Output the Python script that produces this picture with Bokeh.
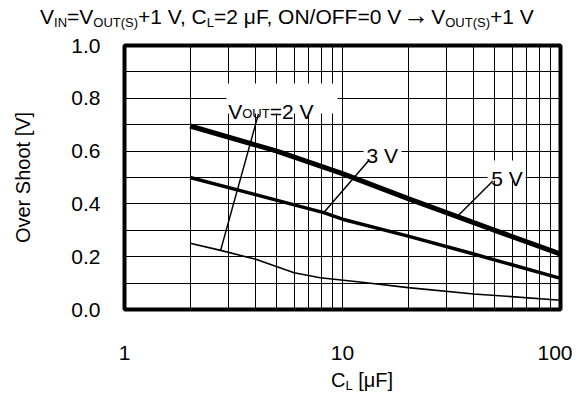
from bokeh.plotting import figure
from bokeh.layouts import column
from bokeh.models import (Range1d, FixedTicker, Label, BoxAnnotation, Div,
                          BasicTickFormatter, PrintfTickFormatter)
from bokeh.embed import file_html
from bokeh.resources import INLINE

# ---------------- data ----------------
cl_2v = [2, 2.76, 4, 6, 7.9, 12, 20, 40, 100]
os_2v = [0.251, 0.224, 0.19, 0.139, 0.12, 0.104, 0.083, 0.059, 0.035]
cl_3v = [2, 8.2, 10, 20, 40, 100]
os_3v = [0.50, 0.367, 0.342, 0.278, 0.21, 0.118]
cl_5v = [2, 5, 10, 20, 50, 100]
os_5v = [0.695, 0.60, 0.515, 0.42, 0.30, 0.21]

x_ticks = [1, 10, 100]
x_grid = [1, 2, 3, 4, 5, 6, 7, 8, 9, 10, 20, 30, 40, 50, 60, 70, 80, 90, 100]
y_ticks = [0.0, 0.2, 0.4, 0.6, 0.8, 1.0]
y_grid = [0.0, 0.1, 0.2, 0.3, 0.4, 0.5, 0.6, 0.7, 0.8, 0.9, 1.0]

# leader lines from labels to curves (C_L, over shoot)
lead_2v_c = [4.12, 2.76]
lead_2v_v = [0.742, 0.224]
lead_3v_c = [13.2, 8.21]
lead_3v_v = [0.564, 0.367]
lead_5v_c = [49.1, 33.6]
lead_5v_v = [0.488, 0.352]

# ---------------- layout ----------------
TITLE_H = 30
FL, FT, FR, FB = 124, 45, 560, 309   # frame in page pixels
FIG_BOTTOM = 365
FONT = "Liberation Sans"
WID = {'V': 667, 'O': 778, 'U': 722, 'T': 611, '=': 584, ' ': 278, '2': 556,
       '3': 556, '5': 556}


def tw(s, size):
    return sum(WID.get(c, 556) for c in s) * size / 1000.0


p = figure(x_axis_type="log", x_range=Range1d(1, 100), y_range=Range1d(0, 1),
           frame_width=FR - FL, frame_height=FB - FT,
           min_border_left=FL, min_border_top=FT - TITLE_H,
           min_border_right=12, min_border_bottom=FIG_BOTTOM - FB,
           output_backend="svg", toolbar_location=None, margin=(0, 0, 0, 0))
p.background_fill_color = "white"
p.border_fill_color = "white"
p.outline_line_color = "black"
p.outline_line_width = 4

for ax in (p.xaxis[0], p.yaxis[0]):
    ax.axis_line_color = None
    ax.major_tick_line_color = None
    ax.minor_tick_line_color = None
    ax.major_label_text_font = FONT
    ax.major_label_text_font_size = "21px"
    ax.major_label_text_color = "black"

p.xaxis.ticker = FixedTicker(ticks=x_ticks)
p.xaxis.formatter = BasicTickFormatter()
p.xaxis.major_label_standoff = 30
p.yaxis.ticker = FixedTicker(ticks=y_ticks)
p.yaxis.formatter = PrintfTickFormatter(format="%.1f")
p.yaxis.major_label_standoff = 18
p.yaxis.axis_label = "Over Shoot [V]"
p.yaxis.axis_label_text_font = FONT
p.yaxis.axis_label_text_font_size = "20px"
p.yaxis.axis_label_text_font_style = "normal"
p.yaxis.axis_label_text_color = "black"
p.yaxis.axis_label_standoff = 34

p.xgrid.ticker = FixedTicker(ticks=x_grid)
p.ygrid.ticker = FixedTicker(ticks=y_grid)
for g in (p.xgrid[0], p.ygrid[0]):
    g.grid_line_color = "black"
    g.grid_line_alpha = 1.0
    g.grid_line_width = 1

# curves
p.line(cl_2v, os_2v, line_color="black", line_width=1.6)
p.line(cl_3v, os_3v, line_color="black", line_width=3.5)
p.line(cl_5v, os_5v, line_color="black", line_width=5)
# leaders
for lc, lv in ((lead_2v_c, lead_2v_v), (lead_3v_c, lead_3v_v), (lead_5v_c, lead_5v_v)):
    p.line(lc, lv, line_color="black", line_width=1.5)


def cx(xp):
    return 10 ** ((xp - FL) / (FR - FL) * 2)


def vy(yp):
    return (FB - yp) / (FB - FT)


# white boxes behind in-plot labels
for (x0, x1, y0, y1) in ((226, 337, 83, 113), (363, 401, 138, 159), (487, 525, 160, 180)):
    p.add_layout(BoxAnnotation(left=cx(x0), right=cx(x1), top=vy(y0), bottom=vy(y1),
                               fill_color="white", fill_alpha=1.0, line_color=None))


def add_text(txt, xp, yp, size):
    p.add_layout(Label(x=xp - FL, y=FB - yp, x_units="screen", y_units="screen",
                       text=txt, text_font=FONT, text_font_size=f"{size}px",
                       text_align="left", text_baseline="alphabetic",
                       text_color="black"))


def flow(pieces, x0, base, big, small, shift=2.5):
    x = x0
    for txt, sub in pieces:
        size = small if sub else big
        add_text(txt, x, base + (shift if sub else 0), size)
        x += tw(txt, size)


# in-plot labels
flow([("V", 0), ("OUT", 1), ("=2 V", 0)], 227.7, 110.7, 21, 13)
add_text("3 V", 366, 155, 21)
add_text("5 V", 490.7, 178.3, 21)

# title and x-axis label (need subscripts -> HTML)
SUB = 'style="font-size:13px;vertical-align:-2.5px;line-height:0"'
ARROW = 'style="font-size:26px;line-height:0;margin:0 2px"'
title_html = (
    f'<div style="font-family:\'{FONT}\';font-size:21px;line-height:24px;'
    'white-space:nowrap;margin:5px 0 0 40px;color:black">'
    f'V<sub {SUB}>IN</sub>=V<sub {SUB}>OUT(S)</sub>+1 V, C<sub {SUB}>L</sub>'
    f'=2 μF, ON/OFF=0 V<span {ARROW}>→</span>'
    f'V<sub {SUB}>OUT(S)</sub>+1 V</div>')
xlab_html = (
    f'<div style="font-family:\'{FONT}\';font-size:20px;line-height:24px;'
    'white-space:nowrap;margin:3px 0 0 331px;color:black">'
    f'C<sub {SUB}>L</sub> [μF]</div>')

title_div = Div(text=title_html, width=572, height=TITLE_H, margin=(0, 0, 0, 0))
xlab_div = Div(text=xlab_html, width=572, height=34, margin=(0, 0, 0, 0))

layout = column(title_div, p, xlab_div, spacing=0)
open("out.html", "w").write(file_html(layout, INLINE))
